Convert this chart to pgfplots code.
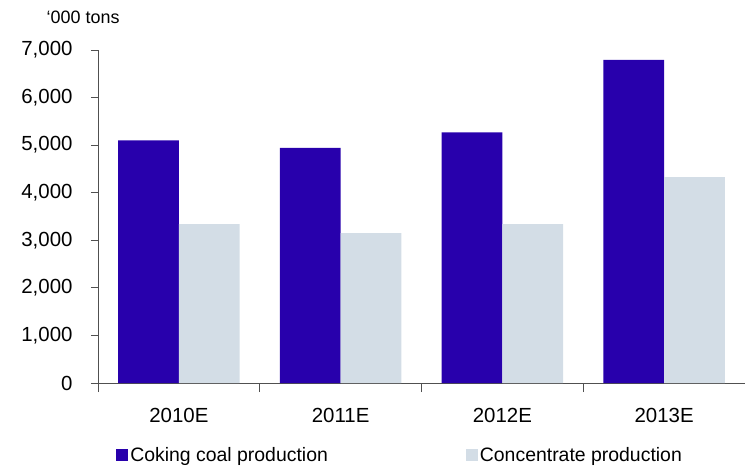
\documentclass[border=0pt]{standalone}
\usepackage{pgfplots}
\pgfplotsset{compat=1.18}
\usepackage{fontspec}
\setmainfont{Liberation Sans}
\definecolor{coking}{RGB}{40,0,172}
\definecolor{conc}{RGB}{211,221,230}
\definecolor{axgray}{RGB}{80,80,80}
\begin{document}
\begin{tikzpicture}
\path[use as bounding box] (-98bp,-83bp) rectangle (647bp,383bp);
\begin{axis}[
  scale only axis,
  width=647bp, height=333bp,
  xmin=-0.5, xmax=3.5,
  ymin=0, ymax=7000,
  ytick distance=1000,
  xtick={0,1,2,3},
  xticklabels={2010E,2011E,2012E,2013E},
  minor xtick={-0.5,0.5,1.5,2.5,3.5},
  major x tick style={draw=none},
  axis lines*=left,
  axis line style={axgray, line width=0.9bp},
  tick style={axgray, line width=0.9bp},
  tick align=outside,
  major tick length=7bp,
  minor tick length=9bp,
  clip=false,
  /pgf/number format/assume math mode=true,
  /pgf/number format/1000 sep={,},
  yticklabel style={font=\fontsize{20.5}{24}\selectfont, xshift=-15bp},
  xticklabel style={font=\fontsize{20.5}{24}\selectfont, yshift=-15bp},
  legend columns=2,
  legend style={draw=none, fill=none, inner sep=0pt,
    at={(axis description cs:0.028,-0.216)}, anchor=west,
    font=\fontsize{19.5}{22}\selectfont,
    /tikz/every even column/.append style={column sep=136bp}},
  legend image code/.code={\fill[#1] (0bp,-6bp) rectangle (12bp,6bp);},
]
\addplot[ybar, bar width=0.375, bar shift=-0.1875, fill=coking, draw=none] coordinates {(0,5100) (1,4940) (2,5270) (3,6790)};
\addplot[ybar, bar width=0.375, bar shift=0.1875, fill=conc, draw=none] coordinates {(0,3340) (1,3150) (2,3340) (3,4330)};
\legend{Coking coal production, Concentrate production}
\node[font=\fontsize{18}{21}\selectfont] at (axis description cs:-0.023,1.099) {‘000 tons};
\end{axis}
\end{tikzpicture}
\end{document}
